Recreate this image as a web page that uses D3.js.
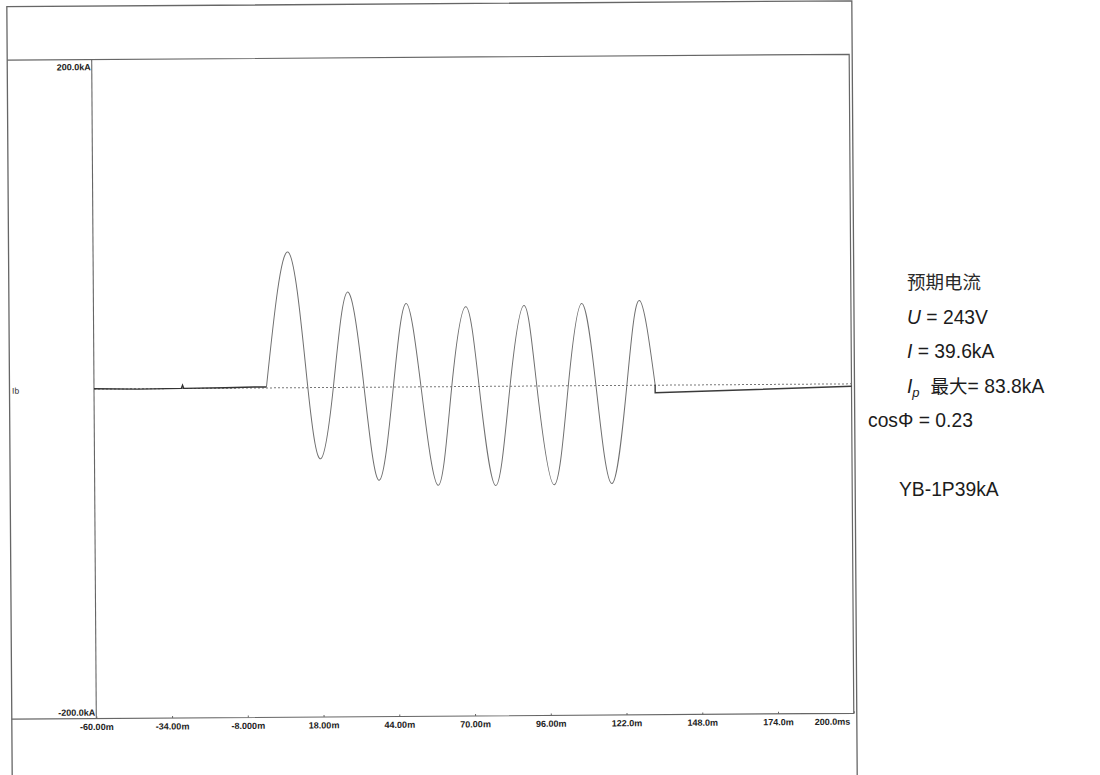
<!DOCTYPE html>
<html>
<head>
<meta charset="utf-8">
<script src="https://cdn.jsdelivr.net/npm/d3@7"></script>
<style>
  html, body { margin: 0; padding: 0; background: #fff; }
  svg { display: block; }
  .tick-label { font-family: "Liberation Sans", Arial, sans-serif; font-weight: bold; font-size: 9px; fill: #222; }
  .note { font-family: "Liberation Sans", Arial, sans-serif; font-size: 19.3px; fill: #1c1c1c; }
  .note-cjk { font-family: "Noto Sans CJK SC", sans-serif; font-size: 18.5px; fill: #2a2a2a; }
</style>
</head>
<body>
<svg id="svg" width="1100" height="775"></svg>
<script>
const width = 1100;
const height = 775;

// axis
const timeDomain = [-60, 200];
const currentDomain = [-200, 200];
const timeTicks = [-60, -34, -8, 18, 44, 70, 96, 122, 148, 174, 200];
const timeTickLabels = ["-60.00m", "-34.00m", "-8.000m", "18.00m", "44.00m", "70.00m",
    "96.00m", "122.0m", "148.0m", "174.0m", "200.0ms"];
const currentTicks = [200, -200];
const currentTickLabels = ["200.0kA", "-200.0kA"];
const channelName = "Ib";

// trace Ib, ms / kA
const preFaultT = [-60, -45, -30, -29.6, -29.2, -15, -5, -0.8];
const preFaultI = [0.2, -0.2, 0.1, 2.0, 0.1, 0.3, 0.6, 0.6];

const faultT = [-0.8, 7.0, 13.4, 17.75, 22.15, 27.2, 32.7, 37.7, 42.75, 47.3, 52.25,
    57.95, 62.8, 67.8, 72.2, 77.66, 82.8, 87.8, 92.0, 97.7, 102.8, 107.6, 112.3,
    117.5, 122.9, 127.4, 132.6];
const faultI = [0.6, 82.3, 0, -43.1, 0, 57.8, 0, -56.5, 0, 50.7, 0,
    -59.8, 0, 48.4, 0, -60.2, 0, 48.9, 0, -60.0, 0, 49.9, 0,
    -59.5, 0, 51.5, 0.4];

const postFaultT = [132.6, 132.6, 200];
const postFaultI = [0.4, -4.6, -1.5];

// side notes
const noteLines = [
    {x: 907, y: 324, parts: [["U", "italic"], [" = 243V", ""]]},
    {x: 907, y: 358, parts: [["I", "italic"], [" = 39.6kA", ""]]},
    {x: 868, y: 427, parts: [["cosΦ = 0.23", ""]]},
    {x: 899, y: 496, parts: [["YB-1P39kA", ""]]}
];

const frame = {left: 9.5, top: 3.5, right: 854.5};
const plot = {left: 94, top: 57, right: 851.5, bottom: 716};

const svg = d3.select("#svg");

// the scan sits a little askew
const page = svg.append("g")
    .attr("transform", "rotate(-0.4 470 388)");

const x = d3.scaleLinear().domain(timeDomain).range([plot.left, plot.right]);
const y = d3.scaleLinear().domain(currentDomain).range([plot.bottom, plot.top]);

const lineColor = "#666";

// outer frame
page.append("path")
    .attr("d", `M${frame.left},${height + 20}V${frame.top}H${frame.right}V${height + 20}`)
    .attr("fill", "none")
    .attr("stroke", lineColor)
    .attr("stroke-width", 1.3);

// plot box
page.append("path")
    .attr("d", `M${frame.left},${plot.top}H${plot.right}V${plot.bottom}H${frame.left}`)
    .attr("fill", "none")
    .attr("stroke", lineColor)
    .attr("stroke-width", 1.2);

page.append("line")
    .attr("x1", plot.left).attr("x2", plot.left)
    .attr("y1", plot.top).attr("y2", plot.bottom)
    .attr("stroke", lineColor)
    .attr("stroke-width", 1.1);

// x axis ticks
const xAxis = d3.axisBottom(x)
    .tickValues(timeTicks)
    .tickSize(-2)
    .tickPadding(4)
    .tickFormat((d, i) => timeTickLabels[i]);

const xg = page.append("g")
    .attr("transform", `translate(0,${plot.bottom})`)
    .call(xAxis);
xg.select(".domain").remove();
xg.selectAll(".tick line").attr("stroke", lineColor);
xg.selectAll(".tick text")
    .attr("class", "tick-label")
    .attr("fill", null)
    .attr("font-family", null)
    .attr("font-size", null)
    .attr("y", 5)
    .attr("dy", "0.71em")
    .attr("text-anchor", (d, i) => i === timeTicks.length - 1 ? "end" : "middle")
    .attr("dx", (d, i) => i === timeTicks.length - 1 ? -4 : 0);

// y labels
page.selectAll("text.ylab")
    .data(currentTicks)
    .enter()
    .append("text")
    .attr("class", "ylab tick-label")
    .attr("x", plot.left - 1)
    .attr("y", d => d > 0 ? y(d) + 10.5 : y(d) - 3)
    .attr("text-anchor", "end")
    .text((d, i) => currentTickLabels[i]);

page.append("text")
    .attr("x", frame.left + 2.5)
    .attr("y", y(0) + 4)
    .attr("font-family", "Liberation Sans, Arial, sans-serif")
    .attr("font-size", 8.5)
    .attr("fill", "#333")
    .text(channelName);

// zero reference
page.append("line")
    .attr("x1", plot.left).attr("x2", plot.right)
    .attr("y1", y(0)).attr("y2", y(0))
    .attr("stroke", "#777")
    .attr("stroke-width", 1)
    .attr("stroke-dasharray", "2,2");

// trace
const toPoints = (ts, vs) => ts.map((t, i) => [t, vs[i]]);

const straight = d3.line().x(d => x(d[0])).y(d => y(d[1]));
const smooth = d3.line().x(d => x(d[0])).y(d => y(d[1])).curve(d3.curveNatural);

page.append("path")
    .attr("d", straight(toPoints(preFaultT, preFaultI)))
    .attr("fill", "none")
    .attr("stroke", "#333")
    .attr("stroke-width", 1.4);

page.append("path")
    .attr("d", smooth(toPoints(faultT, faultI)))
    .attr("fill", "none")
    .attr("stroke", "#707070")
    .attr("stroke-width", 1);

page.append("path")
    .attr("d", straight(toPoints(postFaultT, postFaultI)))
    .attr("fill", "none")
    .attr("stroke", "#3a3a3a")
    .attr("stroke-width", 1.4);

// notes on the right
const notes = svg.append("g");

notes.append("text")
    .attr("class", "note-cjk")
    .attr("x", 907)
    .attr("y", 289)
    .text("预期电流");

noteLines.forEach(line => {
    const t = notes.append("text")
        .attr("class", "note")
        .attr("x", line.x)
        .attr("y", line.y);
    line.parts.forEach(([s, style]) => {
        t.append("tspan")
            .attr("font-style", style || null)
            .text(s);
    });
});

const ip = notes.append("text")
    .attr("class", "note")
    .attr("x", 907)
    .attr("y", 393);
ip.append("tspan").attr("font-style", "italic").text("I");
ip.append("tspan").attr("font-style", "italic").attr("font-size", "13px").attr("dy", 4).text("p");
ip.append("tspan").attr("dy", -4).attr("dx", 11)
    .style("font-family", "'Noto Sans CJK SC', sans-serif")
    .style("font-size", "18.5px")
    .text("最大");
ip.append("tspan").text("= 83.8kA");
</script>
</body>
</html>
